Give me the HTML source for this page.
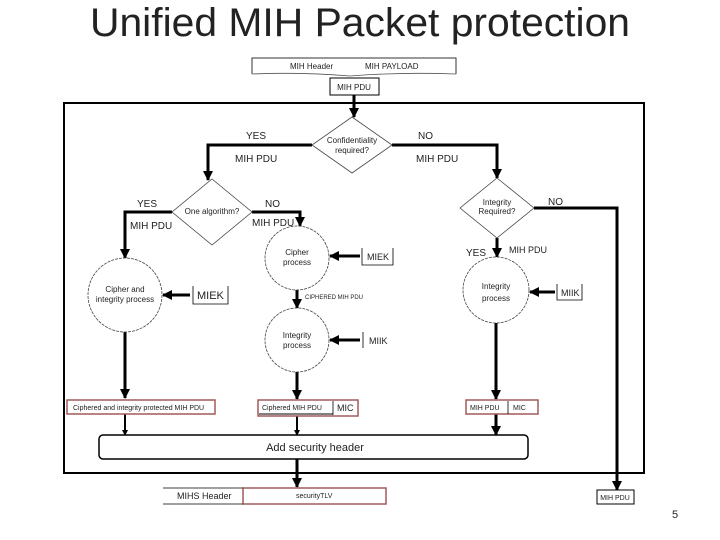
<!DOCTYPE html>
<html><head><meta charset="utf-8"><style>
html,body{margin:0;padding:0;background:#fff;}
svg{display:block;}
text{font-family:"Liberation Sans",sans-serif;fill:#222;}
</style></head><body>
<svg width="720" height="540" viewBox="0 0 720 540" xmlns="http://www.w3.org/2000/svg">
<defs><marker id="a" markerWidth="6" markerHeight="6" refX="5" refY="3" orient="auto" markerUnits="userSpaceOnUse"><path d="M0,0 L6,3 L0,6z" fill="#000"/></marker>
<marker id="b" markerWidth="10" markerHeight="10" refX="9" refY="5" orient="auto" markerUnits="userSpaceOnUse"><path d="M0,0 L10,5 L0,10z" fill="#000"/></marker></defs>
<text x="360" y="36" font-size="40" text-anchor="middle" textLength="540" lengthAdjust="spacingAndGlyphs" fill="#111">Unified MIH Packet protection</text>
<text x="672" y="518" font-size="11" fill="#555">5</text>

<path d="M252,74 L252,58 L456,58 L456,74" fill="none" stroke="#333" stroke-width="1"/>
<text x="290" y="69" font-size="8">MIH Header</text><text x="365" y="69" font-size="8">MIH PAYLOAD</text>
<path d="M252,74 Q300,72 350,76 Q400,72 456,74" fill="none" stroke="#555" stroke-width="0.8"/>
<rect x="330" y="78" width="49" height="17" fill="#fff" stroke="#000"/>
<text x="354" y="90" font-size="8" text-anchor="middle">MIH PDU</text>

<rect x="64" y="103" width="580" height="370" fill="none" stroke="#000" stroke-width="2"/>

<g stroke="#000" stroke-width="3" fill="none">
<path d="M354,95 L354,117" marker-end="url(#b)"/>
<path d="M312,145 L208,145 L208,180" marker-end="url(#b)"/>
<path d="M392,145 L497,145 L497,178" marker-end="url(#b)"/>
<path d="M172,212 L125,212 L125,258" marker-end="url(#b)"/>
<path d="M252,212 L300,212 L300,226" marker-end="url(#b)"/>
<path d="M534,208 L617,208 L617,490" marker-end="url(#b)"/>
<path d="M497,238 L497,257" marker-end="url(#b)"/>
<path d="M297,290 L297,308" marker-end="url(#b)"/>
<path d="M125,332 L125,398" marker-end="url(#b)"/>
<path d="M297,372 L297,399" marker-end="url(#b)"/>
<path d="M496,323 L496,399" marker-end="url(#b)"/>
<path d="M125,414 L125,435" stroke-width="2" marker-end="url(#a)"/>
<path d="M297,416 L297,435" stroke-width="2" marker-end="url(#a)"/>
<path d="M496,414 L496,435" marker-end="url(#b)"/>
<path d="M297,459 L297,487" marker-end="url(#b)"/>
<path d="M360,256 L330,256" marker-end="url(#b)"/>
<path d="M190,295 L163,295" marker-end="url(#b)"/>
<path d="M360,340 L330,340" marker-end="url(#b)"/>
<path d="M555,292 L530,292" marker-end="url(#b)"/>
</g>

<g fill="#fff" stroke="#444" stroke-width="0.8">
<polygon points="352,117 392,145 352,173 312,145"/>
<polygon points="212,179 252,212 212,245 172,212"/>
<polygon points="497,178 534,208 497,238 460,208"/>
<circle cx="125" cy="295" r="37" stroke-dasharray="3,1"/>
<circle cx="297" cy="258" r="32" stroke-dasharray="3,1"/>
<circle cx="297" cy="340" r="32" stroke-dasharray="3,1"/>
<circle cx="496" cy="290" r="33" stroke-dasharray="3,1"/>
</g>

<g font-size="8" text-anchor="middle">
<text x="352" y="143">Confidentiality</text><text x="352" y="153">required?</text>
<text x="212" y="214">One algorithm?</text>
<text x="497" y="205">Integrity</text><text x="497" y="214">Required?</text>
<text x="125" y="292">Cipher and</text><text x="125" y="302">integrity process</text>
<text x="297" y="255">Cipher</text><text x="297" y="265">process</text>
<text x="297" y="338">Integrity</text><text x="297" y="348">process</text>
<text x="496" y="289">Integrity</text><text x="496" y="301">process</text>
</g>
<g font-size="10">
<text x="246" y="139">YES</text><text x="418" y="139">NO</text>
<text x="235" y="162">MIH PDU</text><text x="416" y="162">MIH PDU</text>
<text x="137" y="207">YES</text><text x="265" y="207">NO</text>
<text x="130" y="229">MIH PDU</text><text x="252" y="226">MIH PDU</text>
<text x="548" y="205">NO</text>
<text x="466" y="256">YES</text><text x="509" y="253" font-size="9">MIH PDU</text>
</g>
<text x="305" y="299" font-size="6">CIPHERED MIH PDU</text>
<g font-size="9">
<path d="M362,248 L362,265 L393,265 L393,248" fill="none" stroke="#000" stroke-width="0.8"/><text x="367" y="260">MIEK</text>
<path d="M193,286 L193,304 L228,304 L228,286" fill="none" stroke="#000" stroke-width="0.8"/><text x="197" y="299" font-size="11">MIEK</text>
<path d="M363,332 L363,348" stroke="#000" stroke-width="0.8"/><text x="369" y="344">MIIK</text>
<path d="M557,284 L557,300 L582,300 L582,284" fill="none" stroke="#000" stroke-width="0.8"/><text x="561" y="296">MIIK</text>
</g>

<g fill="#fff" stroke="#a05a5a" stroke-width="1.5">
<rect x="67" y="400" width="148" height="14"/>
<rect x="258" y="400" width="100" height="16"/>
<rect x="466" y="400" width="72" height="14"/>
<rect x="243" y="488" width="143" height="16"/>
</g>
<path d="M333,401 L333,415 M508,401 L508,414" stroke="#000" stroke-width="0.8"/>
<path d="M259,414 L333,414" stroke="#000" stroke-width="1"/>
<g font-size="7">
<text x="73" y="410">Ciphered and integrity protected MIH PDU</text>
<text x="262" y="410">Ciphered MIH PDU</text><text x="337" y="411" font-size="9">MIC</text>
<text x="470" y="410">MIH PDU</text><text x="513" y="410">MIC</text>
<text x="296" y="498">securityTLV</text>
</g>
<rect x="99" y="435" width="429" height="24" rx="4" fill="#fff" stroke="#000" stroke-width="1.5"/>
<text x="315" y="451" font-size="11" text-anchor="middle">Add security header</text>
<path d="M163,488 L243,488 M163,504 L243,504" stroke="#000" stroke-width="0.8"/>
<text x="177" y="499" font-size="9">MIHS Header</text>
<rect x="597" y="490" width="37" height="14" fill="#fff" stroke="#000"/>
<text x="615" y="500" font-size="7" text-anchor="middle">MIH PDU</text>
</svg>
</body></html>
